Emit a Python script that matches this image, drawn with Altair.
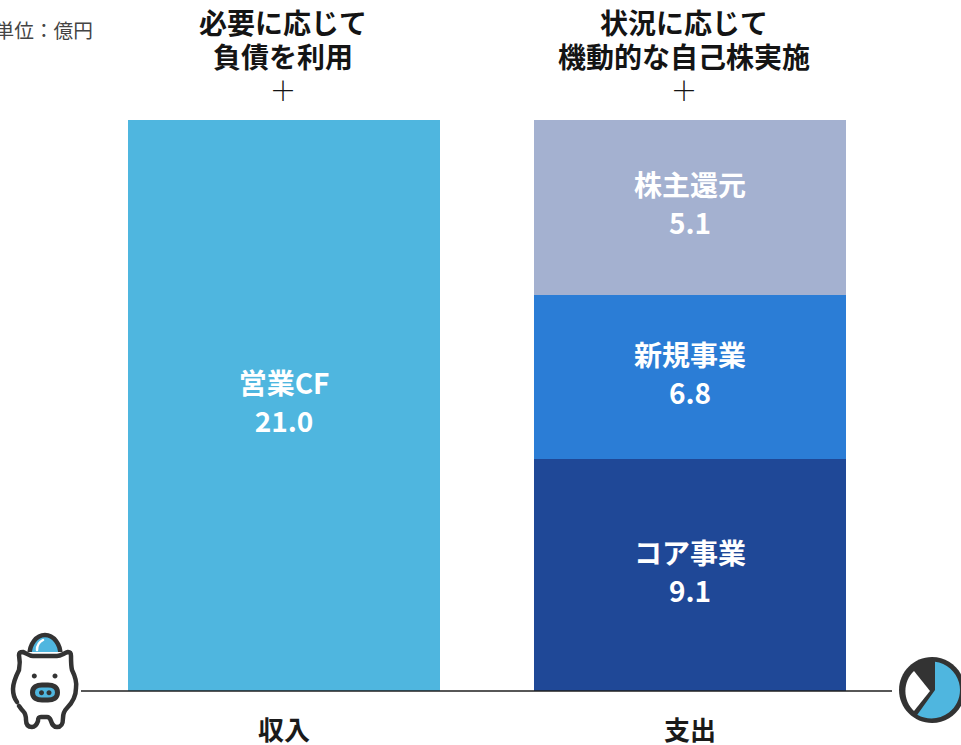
import altair as alt
import pandas as pd

# Values
categories = ["収入", "支出"]
income_names = ["営業CF"]
income_values = [21.0]
spend_names = ["コア事業", "新規事業", "株主還元"]
spend_values = [9.1, 6.8, 5.1]
income_note = ["必要に応じて", "負債を利用"]
spend_note = ["状況に応じて", "機動的な自己株実施"]
unit_label = "単位：億円"

# Colours
colors = {"営業CF": "#4fb6df", "コア事業": "#1f4897", "新規事業": "#2b7dd6", "株主還元": "#a4b1d0"}
INK = "#333333"
FONT = "Noto Sans CJK JP"
PLOT_HEIGHT = 571

# Table of stacked segments
rows = []
for cat, names, values in [(categories[0], income_names, income_values),
                           (categories[1], spend_names, spend_values)]:
    start = 0.0
    for name, value in zip(names, values):
        rows.append({"cat": cat, "name": name, "value": value, "start": start,
                     "end": round(start + value, 1), "mid": start + value / 2,
                     "label": f"{name}\n{value:.1f}"})
        start = round(start + value, 1)
segments = pd.DataFrame(rows)

x_scale = alt.Scale(domain=categories, range=[128, 846], paddingInner=0.2315, paddingOuter=0)
# The stack is schematic: each segment gets its own height, so the scale is piecewise
y_scale = alt.Scale(domain=[0, 9.1, 15.9, 21.0], range=[PLOT_HEIGHT, 339, 175, 0], nice=False, zero=False)

bars = alt.Chart(segments).mark_bar(size=312).encode(
    x=alt.X("cat:N", scale=x_scale, sort=categories,
            axis=alt.Axis(title=None, domain=False, ticks=False, labelAngle=0, labelFont=FONT,
                          labelFontSize=26, labelFontWeight="bold", labelColor="#1a1a1a",
                          labelPadding=27, grid=False)),
    y=alt.Y("start:Q", scale=y_scale, axis=None),
    y2="end:Q",
    color=alt.Color("name:N", scale=alt.Scale(domain=list(colors), range=list(colors.values())), legend=None),
)

label_style = dict(font=FONT, fontSize=28, fontWeight="bold", color="white",
                   lineBreak="\n", lineHeight=38, dy=-19.5)

# The spending labels sit at the middle of their segments
spend_labels = alt.Chart(segments[segments["cat"] == categories[1]]).mark_text(**label_style).encode(
    x=alt.X("cat:N", scale=x_scale, sort=categories),
    y=alt.Y("mid:Q", scale=y_scale),
    text="label:N",
)

# The single income bar spans the full height, so its label sits at mid-height
income_labels = alt.Chart(segments[segments["cat"] == categories[0]]).mark_text(**label_style).encode(
    x=alt.X("cat:N", scale=x_scale, sort=categories),
    y=alt.value(PLOT_HEIGHT / 2),
    text="label:N",
)

baseline = alt.Chart(pd.DataFrame({"v": [0]})).mark_rule(color="#1f1f1f", strokeWidth=1.5).encode(
    x=alt.value(81), x2=alt.value(892), y=alt.Y("v:Q", scale=y_scale),
)


def note(cat, lines, shift):
    """Two bold lines and a thin plus sign above one column."""
    layers = []
    for line, py in zip(lines, [-94, -60]):
        layers.append(alt.Chart(pd.DataFrame({"cat": [cat], "t": [line]})).mark_text(
            font=FONT, fontSize=28, fontWeight="bold", color="#141414", dx=shift,
        ).encode(x=alt.X("cat:N", scale=x_scale, sort=categories), y=alt.value(py), text="t:N"))
    layers.append(alt.Chart(pd.DataFrame({"cat": [cat], "t": ["＋"]})).mark_text(
        font=FONT, fontSize=27, fontWeight=300, color="#141414", dx=shift,
    ).encode(x=alt.X("cat:N", scale=x_scale, sort=categories), y=alt.value(-27), text="t:N"))
    return layers


unit = alt.Chart(pd.DataFrame({"t": [unit_label]})).mark_text(
    font=FONT, fontSize=19.7, color="#444444", align="right",
).encode(x=alt.value(93), y=alt.value(-88), text="t:N")


def glyph(path, px, py, fill=None, stroke=None, width=0):
    """One icon part; size 4 makes the symbol path's units equal to pixels."""
    props = dict(shape=path, size=4, opacity=1, strokeWidth=width, strokeCap="round", strokeJoin="round")
    props["fill"] = fill if fill else "transparent"
    props["stroke"] = stroke if stroke else "transparent"
    return alt.Chart(pd.DataFrame({"k": [0]})).mark_point(**props).encode(
        x=alt.value(px), y=alt.value(py - 120))


# Piggy bank icon, path units relative to its centre
PX, PY = 45, 680
pig_coin = "M-15.5 -25 A15.5 20 0 0 1 15.5 -25 Z"
pig_shine = "M-8 -30 C-8 -35 -6 -38 -2 -40"
pig_fill = "M-24 -28 L23 -28 L31 5 L29 20 L18 33 L17 45 L10 47 L6 38 L-6 38 L-10 47 L-17 46 L-19 35 L-32 15 L-32 2 Z"
pig_outline = ("M-28 22 C-31 18 -32 14 -32 9 C-32 3 -29 -4 -26 -10 C-25 -15 -25 -20 -26 -25 "
               "C-26 -28 -24 -28 -22 -28 C-19 -27 -16 -24 -12 -24 L12 -24 C16 -24 19 -27 23 -28 "
               "C25 -28 26 -27 26 -24 C26 -18 26 -14 27 -10 C30 -4 32 2 31 8 C31 15 28 22 22 28 "
               "C19 31 18 34 18 38 C18 45 16 47 12 47 C8 47 7 44 6 41 C5 38 4 37 2 37 L-4 37 "
               "C-6 37 -7 38 -7 41 C-8 44 -10 47 -13 47 C-17 47 -19 45 -19 40 C-19 36 -20 33 -22 31 "
               "C-24 29 -25 27 -26 26")
snout_path = "M-12.5 12.5 C-12.5 7 -8 5 -3 5 L3 5 C8 5 12.5 7 12.5 12.5 C12.5 18 8 20 3 20 L-3 20 C-8 20 -12.5 18 -12.5 12.5 Z"
nostril_left = "M-6 12.7 a2.5 2.5 0 1 0 5 0 a2.5 2.5 0 1 0 -5 0 Z"
nostril_right = "M1.5 12.7 a2.5 2.5 0 1 0 5 0 a2.5 2.5 0 1 0 -5 0 Z"
eye_left = "M-13.2 -4 a2.5 2.5 0 1 0 5 0 a2.5 2.5 0 1 0 -5 0 Z"
eye_right = "M7.5 -4 a2.5 2.5 0 1 0 5 0 a2.5 2.5 0 1 0 -5 0 Z"
pig = [
    glyph(pig_coin, PX, PY, fill="#4fb6df", stroke=INK, width=4.5),
    glyph(pig_shine, PX, PY, stroke="white", width=2.5),
    glyph(pig_fill, PX, PY, fill="white"),
    glyph(pig_outline, PX, PY, stroke=INK, width=4.5),
    glyph(snout_path, PX, PY, fill="#4fb6df", stroke=INK, width=5),
    glyph(nostril_left, PX, PY, fill=INK),
    glyph(nostril_right, PX, PY, fill=INK),
    glyph(eye_left, PX, PY, fill=INK),
    glyph(eye_right, PX, PY, fill=INK),
]

# Spending pie icon, running off the right edge
QX, QY = 932, 690
pie_disc = "M-33 0 A33 33 0 1 1 33 0 A33 33 0 1 1 -33 0 Z"
pie_blue = "M3 0 L3 -28.3 A28.5 28.5 0 1 1 -14.7 24.7 Z"
pie_white = "M-2 1 L-18 -19 A27.5 27.5 0 0 0 -18 21 Z"
pie = [
    glyph(pie_disc, QX, QY, fill=INK),
    glyph(pie_blue, QX, QY, fill="#4fb6df"),
    glyph(pie_white, QX, QY, fill="white"),
]

chart = alt.layer(
    bars, spend_labels, income_labels, baseline,
    *note(categories[0], income_note, -1),
    *note(categories[1], spend_note, -6),
    unit, *pig, *pie,
).properties(
    width=961, height=PLOT_HEIGHT,
    padding={"left": 0, "top": 120, "right": 0, "bottom": 54},
    autosize=alt.AutoSizeParams(type="none"),
    background="white",
).configure_view(stroke=None)

chart.save("out.html", embed_options={"renderer": "svg", "actions": False})
